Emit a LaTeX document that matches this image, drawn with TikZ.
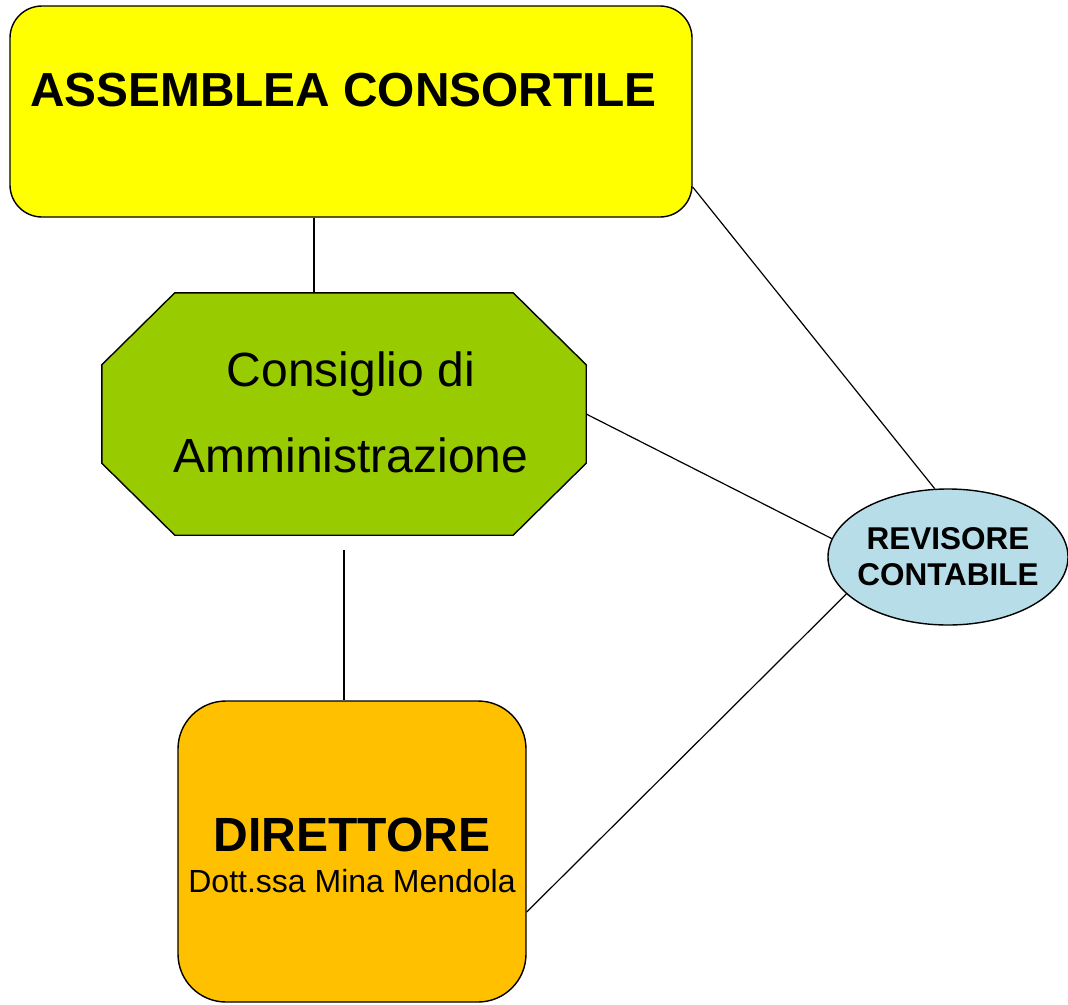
\documentclass[tikz,border=0pt]{standalone}
\usepackage{fontspec}
\setmainfont{Liberation Sans}
\usetikzlibrary{shapes.geometric}
\definecolor{giallo}{HTML}{FFFF00}
\definecolor{verde}{HTML}{99CC00}
\definecolor{arancio}{HTML}{FFC000}
\definecolor{azzurro}{HTML}{B7DEE8}
\tikzset{
  organo/.style={draw,line width=1.4pt,inner sep=0pt,align=center},
  assemblea/.style={organo,rounded corners=32pt,fill=giallo,
    minimum width=682pt,minimum height=211pt},
  consiglio/.style={inner sep=0pt,minimum width=484pt,minimum height=242pt},
  ottagono/.style={line width=1.4pt,fill=verde},
  direttore/.style={organo,rounded corners=48pt,fill=arancio,
    minimum width=348pt,minimum height=301pt,
    font=\fontsize{32}{41}\selectfont},
  revisore/.style={organo,ellipse,fill=azzurro,inner xsep=-8pt,
    minimum width=240pt,minimum height=136pt,
    font=\fontsize{31.5}{36}\selectfont\bfseries},
  titolo/.style={inner sep=0pt,font=\fontsize{47.8}{50}\selectfont\bfseries},
  testo/.style={inner sep=0pt,align=center,font=\fontsize{48}{86}\selectfont},
  link/.style={line width=1.2pt}
}
\begin{document}
\begin{tikzpicture}[x=1pt,y=-1pt]
  \useasboundingbox (0,0) rectangle (1068,1004);
  \node[assemblea] (ass) at (351,111.5) {};
  \node[titolo] (asstitolo) at (343.5,90) {ASSEMBLEA CONSORTILE};
  \node[consiglio] (cda) at (344,414) {};
  \draw[ottagono] ([xshift=73pt]cda.north west) -- ([xshift=-73pt]cda.north east)
    -- ([yshift=-72pt]cda.north east) -- ([yshift=72pt]cda.south east)
    -- ([xshift=-73pt]cda.south east) -- ([xshift=73pt]cda.south west)
    -- ([yshift=72pt]cda.south west) -- ([yshift=-72pt]cda.north west) -- cycle;
  \node[testo] (cdatesto) at (351,412) {Consiglio di\\Amministrazione};
  \node[direttore] (dir) at (352,851.5)
    {\rule{0pt}{42pt}{\fontsize{48}{41}\selectfont\bfseries DIRETTORE}\\Dott.ssa Mina Mendola};
  \node[revisore] (rev) at (948,557) {REVISORE\\CONTABILE};
  % collegamenti
  \draw[link] (ass.south -| 314,0) -- (cda.north -| 314,0);
  \draw[link] ([yshift=-15pt]cda.south) -- (dir.north -| cda.south);
  \draw[link] ([yshift=-75.5pt]ass.east) -- (rev.101);
  \draw[link] (cda.east) -- (rev.171);
  \draw[link] ([yshift=-60.5pt]dir.east) -- (rev.200);
\end{tikzpicture}
\end{document}
